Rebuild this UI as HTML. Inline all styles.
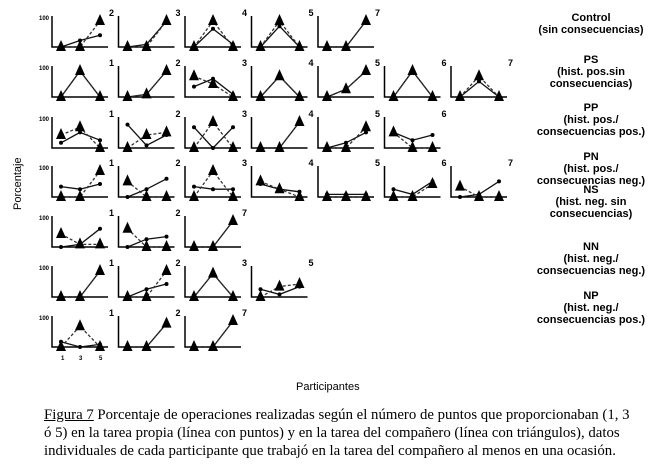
<!DOCTYPE html>
<html><head><meta charset="utf-8"><style>
body{margin:0;background:#fff;width:657px;height:473px;overflow:hidden;position:relative;font-family:"Liberation Sans",sans-serif}
.r{position:absolute;font-weight:bold;font-size:11px;text-align:center;line-height:12px;width:140px;left:521px}
.cap{position:absolute;left:44px;top:406px;white-space:nowrap;font-family:"Liberation Serif",serif;font-size:14.8px;line-height:18px;color:#000}
</style></head><body>
<svg id="s" width="657" height="473" style="position:absolute;left:0;top:0"></svg>
<div class="r" style="top:12px">Control<br>(sin consecuencias)</div>
<div class="r" style="top:54px">PS<br>(hist. pos.sin<br>consecuencias)</div>
<div class="r" style="top:102px">PP<br>(hist. pos./<br>consecuencias pos.)</div>
<div class="r" style="top:151px">PN<br>(hist. pos./<br>consecuencias neg.)</div>
<div class="r" style="top:184px">NS<br>(hist. neg. sin<br>consecuencias)</div>
<div class="r" style="top:241px">NN<br>(hist. neg./<br>consecuencias neg.)</div>
<div class="r" style="top:290px">NP<br>(hist. neg./<br>consecuencias pos.)</div>
<div class="cap"><u>Figura 7</u> Porcentaje de operaciones realizadas según el número de puntos que proporcionaban (1, 3<br>ó 5) en la tarea propia (línea con puntos) y en la tarea del compañero (línea con triángulos), datos<br>individuales de cada participante que trabajó en la tarea del compañero al menos en una ocasión.</div>
<script>
var P=[
[0,0,'2',[0,.25,.45],[0,0,1]],[0,1,'3',[0,.1,1],[0,0,1]],[0,2,'4',[0,.7,.1],[0,1,0]],[0,3,'5',[0,.8,0],[0,1,0]],[0,4,'7',[0,0,1],[0,0,1]],
[1,0,'1',[0,1,0],[0,1,0]],[1,1,'2',[0,.1,1],[0,.1,1]],[1,2,'3',[.4,.7,.1],[.8,.5,0]],[1,3,'4',[0,.8,0],[0,.8,0]],[1,4,'5',[0,.3,1],[0,.3,1]],[1,5,'6',[0,1,0],[0,1,0]],[1,6,'7',[0,.6,0],[0,.8,0]],
[2,0,'1',[.2,.6,.3],[.5,.8,0]],[2,1,'2',[.9,.1,.5],[0,.5,.6]],[2,2,'3',[.8,0,.8],[0,1,0]],[2,3,'4',[0,0,1],[0,0,1]],[2,4,'5',[0,.2,.6],[0,0,.8]],[2,5,'6',[.6,.3,.5],[.6,0,0]],
[3,0,'1',[.4,.3,.5],[0,0,1]],[3,1,'2',[0,.3,.7],[.6,0,0]],[3,2,'3',[.4,.3,.3],[0,1,0]],[3,3,'4',[.5,.3,.2],[.6,.3,0]],[3,4,'5',[.1,.1,.1],[0,0,0]],[3,5,'6',[.3,.1,.6],[0,0,.5]],[3,6,'7',[0,.1,.6],[.4,0,0]],
[4,0,'1',[0,.1,.7],[.5,.1,.1]],[4,1,'2',[0,.3,.4],[.7,0,0]],[4,2,'7',[0,0,1],[0,0,1]],
[5,0,'1',[0,0,1],[0,0,1]],[5,1,'2',[0,.3,.5],[0,0,1]],[5,2,'3',[0,.9,0],[0,.9,0]],[5,3,'5',[.3,.1,.4],[0,.4,.5]],
[6,0,'1',[.2,0,.1],[0,.8,0]],[6,1,'2',[0,0,.9],[0,0,.9]],[6,2,'7',[0,0,1],[0,0,1]]];
var base=[47,97,148,197,247,297,347],h='';
P.forEach(function(p){var x0=52+p[1]*66.5,y0=base[p[0]];
h+='<path d="M'+x0+' '+(y0-31)+'V'+y0+'H'+(x0+56)+'" stroke="#000" stroke-width="1.5" fill="none"/>';
if(p[1]==0)h+='<text x="'+(x0-13)+'" y="'+(y0-27)+'" font-size="6" font-weight="bold">100</text>';
h+='<text x="'+(x0+57)+'" y="'+(y0-31)+'" font-size="9" font-weight="bold">'+p[2]+'</text>';
var xs=[x0+9,x0+28,x0+48],d=p[3].map(function(v,i){return xs[i]+','+(y0-v*26)}).join(' '),t=p[4].map(function(v,i){return xs[i]+','+(y0-v*26)}).join(' ');
h+='<polyline points="'+d+'" stroke="#111" stroke-width="1.3" fill="none"/>';
h+='<polyline points="'+t+'" stroke="#333" stroke-width="1.3" stroke-dasharray="3,2" fill="none"/>';
p[3].forEach(function(v,i){h+='<circle cx="'+xs[i]+'" cy="'+(y0-v*26)+'" r="2" fill="#000"/>'});
p[4].forEach(function(v,i){var y=y0-v*26+2;h+='<polygon points="'+(xs[i]-5)+','+(y+2)+' '+(xs[i]+5)+','+(y+2)+' '+xs[i]+','+(y-9)+'" fill="#000"/>'});
});
h+='<text x="61" y="360" font-size="6" font-weight="bold">1</text><text x="79" y="360" font-size="6" font-weight="bold">3</text><text x="99" y="360" font-size="6" font-weight="bold">5</text>';
h+='<text transform="translate(21,210) rotate(-90)" font-size="11">Porcentaje</text>';
h+='<text x="296" y="390" font-size="11">Participantes</text>';
document.getElementById('s').innerHTML=h;
</script>
</body></html>
